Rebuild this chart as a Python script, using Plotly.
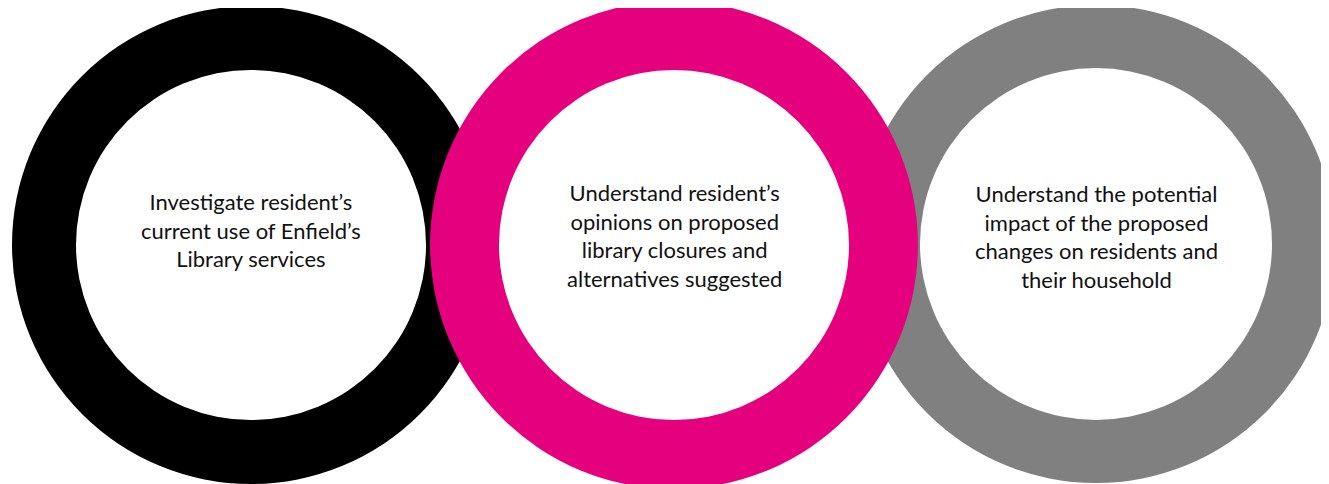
import plotly.graph_objects as go

# ring diagram: three objectives
labels = [
    "Investigate resident\u2019s<br>current use of Enfield\u2019s<br>Library services",
    "Understand resident\u2019s<br>opinions on proposed<br>library closures and<br>alternatives suggested",
    "Understand the potential<br>impact of the proposed<br>changes on residents and<br>their household",
]
center_x = [251, 674, 1096]
center_y = [245, 245, 244]
outer_r = [239, 244, 239]
inner_r = [175, 175, 176]
colors = ["#000000", "#E5007E", "#808080"]
text_y = [230, 235, 236]

W, H = 1329, 484
PAD = 8  # page body margin in the browser

fig = go.Figure()

# pink ring sits on top of the other two
shapes = []
for i in [0, 2, 1]:
    cx, cy = center_x[i], center_y[i]
    R, r = outer_r[i], inner_r[i]
    shapes.append(dict(type="circle", xref="x", yref="y",
                       x0=cx - R, x1=cx + R, y0=cy - R, y1=cy + R,
                       fillcolor=colors[i], line_width=0, layer="below"))
    shapes.append(dict(type="circle", xref="x", yref="y",
                       x0=cx - r, x1=cx + r, y0=cy - r, y1=cy + r,
                       fillcolor="white", line_width=0, layer="below"))

for i, txt in enumerate(labels):
    fig.add_annotation(x=center_x[i], y=text_y[i], text=txt, showarrow=False,
                       xref="x", yref="y", align="center",
                       font=dict(family="Lato", size=22, color="#111111"))

fig.update_layout(
    width=W - PAD, height=H - PAD,
    margin=dict(l=0, r=0, t=0, b=0),
    paper_bgcolor="white", plot_bgcolor="white",
    shapes=shapes,
    showlegend=False,
    xaxis=dict(range=[PAD, W], visible=False, fixedrange=True),
    yaxis=dict(range=[H, PAD], visible=False, fixedrange=True),
)

fig.write_html("out.html")
